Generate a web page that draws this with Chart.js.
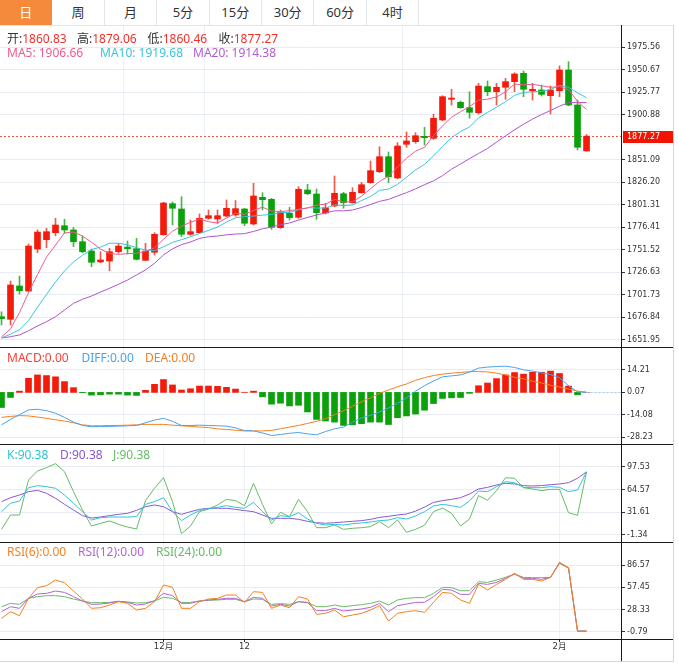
<!DOCTYPE html>
<html><head><meta charset="utf-8">
<script src="https://cdn.jsdelivr.net/npm/chart.js"></script>
<style>
html,body{margin:0;padding:0;background:#fff;}
body{width:678px;height:671px;position:relative;overflow:hidden;font-family:"Noto Sans","Noto Sans CJK SC",sans-serif;}
.tabs{position:absolute;left:0;top:0;width:674px;height:25px;border-bottom:1px solid #e1e5e9;}
.tab{position:absolute;top:0;width:52.4px;height:25px;line-height:25px;text-align:center;font-size:13px;color:#333;border-right:1px solid #e1e5e9;box-sizing:border-box;font-family:"Noto Sans","Noto Sans CJK SC",sans-serif;}
.tab.on{background:#f68a3c;color:#fff;border-right-color:#f68a3c;}
.hdr{position:absolute;font-size:12px;white-space:nowrap;line-height:14px;}
.k{color:#333;}
.r{color:#f2302a;}
canvas{position:absolute;left:0;}
.hl{position:absolute;height:1px;background:#1a1a1a;left:0;width:673px;}
</style></head>
<body>
<div class="tabs">
<div class="tab on" style="left:0px">日</div>
<div class="tab" style="left:52.4px">周</div>
<div class="tab" style="left:104.8px">月</div>
<div class="tab" style="left:157.2px">5分</div>
<div class="tab" style="left:209.6px">15分</div>
<div class="tab" style="left:262px">30分</div>
<div class="tab" style="left:314.4px">60分</div>
<div class="tab" style="left:366.8px">4时</div>
</div>

<canvas id="c1" width="678" height="321" style="top:26px;width:678px;height:321px"></canvas>
<canvas id="c2" width="678" height="97" style="top:347px;width:678px;height:97px"></canvas>
<canvas id="c3" width="678" height="98" style="top:444px;width:678px;height:98px"></canvas>
<canvas id="c4" width="678" height="119" style="top:542px;width:678px;height:119px"></canvas>

<div class="hdr" style="left:7px;top:32px"><span class="k">开:</span><span class="r">1860.83</span></div>
<div class="hdr" style="left:77px;top:32px"><span class="k">高:</span><span class="r">1879.06</span></div>
<div class="hdr" style="left:147.5px;top:32px"><span class="k">低:</span><span class="r">1860.46</span></div>
<div class="hdr" style="left:218.5px;top:32px"><span class="k">收:</span><span class="r">1877.27</span></div>
<div class="hdr" style="left:7px;top:46px;color:#ee5b8f">MA5: 1906.66</div>
<div class="hdr" style="left:100px;top:46px;color:#3cc4dc">MA10: 1919.68</div>
<div class="hdr" style="left:193px;top:46px;color:#b15ccf">MA20: 1914.38</div>

<div class="hdr" style="left:7px;top:351px;color:#f2453a">MACD:0.00</div>
<div class="hdr" style="left:81.5px;top:351px;color:#4aa2ef">DIFF:0.00</div>
<div class="hdr" style="left:145px;top:351px;color:#f5801f">DEA:0.00</div>

<div class="hdr" style="left:7px;top:448px;color:#2fc4d8">K:90.38</div>
<div class="hdr" style="left:60px;top:448px;color:#8a58d0">D:90.38</div>
<div class="hdr" style="left:113px;top:448px;color:#66bb66">J:90.38</div>

<div class="hdr" style="left:7px;top:545px;color:#f5801f">RSI(6):0.00</div>
<div class="hdr" style="left:78px;top:545px;color:#b463d2">RSI(12):0.00</div>
<div class="hdr" style="left:156px;top:545px;color:#66bb66">RSI(24):0.00</div>

<div class="hl" style="top:347px"></div>
<div class="hl" style="top:444px"></div>
<div class="hl" style="top:542px"></div>
<div class="hl" style="top:639px"></div>
<div style="position:absolute;left:621px;top:25px;width:1px;height:636px;background:#1a1a1a"></div>
<div style="position:absolute;left:673px;top:25px;width:1px;height:637px;background:#d3d7db"></div>
<div style="position:absolute;left:0;top:661px;width:674px;height:1px;background:#d3d7db"></div>

<script>
// ---- data ----
const opens  = [1677.4,1674.5,1711.4,1705.8,1752.3,1762.6,1770.4,1778.1,1773.4,1760.4,1750.1,1738.0,1739.0,1749.3,1754.5,1752.7,1739.8,1748.7,1768.2,1802.5,1796.6,1768.6,1770.4,1786.3,1785.5,1788.8,1790.0,1796.6,1780.0,1809.5,1807.3,1775.9,1791.8,1787.4,1817.6,1813.2,1792.2,1799.9,1813.5,1803.6,1814.6,1825.7,1837.9,1854.5,1830.9,1868.2,1871.1,1877.0,1874.8,1895.1,1918.0,1914.7,1908.7,1903.2,1932.0,1926.4,1931.3,1937.5,1946.8,1927.5,1928.3,1922.0,1927.5,1950.4,1911.7,1860.83];
const highs  = [1682.9,1716.9,1722.4,1757.9,1773.4,1775.2,1786.3,1785.2,1776.3,1766.7,1752.3,1749.3,1753.1,1758.6,1761.2,1764.2,1758.6,1770.4,1804.0,1804.3,1810.2,1784.4,1791.1,1795.5,1795.5,1806.6,1806.0,1797.4,1825.0,1814.6,1808.4,1795.5,1798.5,1821.3,1823.9,1818.7,1802.9,1833.1,1815.1,1820.2,1826.1,1849.7,1865.5,1859.7,1870.0,1881.8,1881.0,1887.0,1901.7,1922.0,1929.1,1916.1,1926.4,1935.7,1938.3,1935.7,1941.2,1947.4,1949.3,1935.7,1933.8,1932.7,1954.9,1959.6,1917.2,1879.06];
const lows   = [1668.2,1668.2,1702.5,1705.1,1748.2,1753.8,1767.0,1769.7,1754.9,1748.2,1732.7,1737.2,1728.3,1747.6,1746.8,1740.2,1739.4,1745.7,1767.5,1778.9,1765.9,1767.5,1769.7,1785.2,1780.8,1788.1,1788.5,1778.1,1778.9,1795.5,1774.1,1775.2,1784.4,1786.3,1812.4,1785.2,1791.1,1799.1,1797.4,1802.9,1814.0,1825.0,1836.8,1825.7,1830.1,1864.9,1869.3,1867.4,1873.7,1894.3,1911.7,1908.0,1897.0,1901.7,1922.0,1911.7,1918.0,1926.4,1920.9,1917.2,1921.6,1901.7,1920.9,1910.6,1861.9,1860.46];
const closes = [1675.2,1712.5,1706.2,1755.6,1771.1,1771.5,1778.9,1773.4,1760.4,1749.3,1737.6,1740.2,1749.3,1755.6,1752.7,1740.9,1750.1,1768.6,1803.2,1797.4,1768.6,1771.5,1786.3,1789.2,1789.2,1797.4,1797.0,1780.8,1811.0,1806.9,1776.3,1792.9,1787.0,1818.4,1813.5,1792.5,1798.0,1814.0,1803.6,1815.1,1823.5,1839.0,1854.5,1832.4,1866.3,1871.9,1877.7,1875.5,1897.0,1920.9,1919.4,1908.7,1903.6,1932.7,1926.4,1931.3,1937.5,1946.0,1929.1,1929.1,1923.5,1928.3,1950.4,1911.7,1864.9,1877.27];

const ma5  = [1655,1664,1682,1704,1724.1,1743.4,1756.7,1770.1,1771.1,1766.7,1759.9,1752.2,1747.4,1746.4,1747.1,1747.7,1749.7,1753.6,1763.1,1772.0,1777.6,1781.9,1785.4,1782.6,1781.0,1786.7,1791.8,1790.7,1795.1,1798.6,1794.4,1793.6,1794.8,1796.3,1797.6,1800.9,1801.9,1807.3,1804.3,1804.6,1810.8,1819.0,1827.1,1832.9,1843.1,1852.8,1860.6,1864.8,1877.7,1888.6,1898.1,1904.3,1909.9,1917.1,1918.2,1920.5,1926.3,1934.8,1934.1,1934.6,1933.0,1931.2,1932.1,1928.6,1915.8,1906.66];
const ma10 = [1654,1658,1663,1673,1688,1702,1716,1728,1738,1745.4,1751.7,1754.4,1758.7,1758.7,1756.9,1753.8,1751.0,1750.5,1754.8,1759.6,1762.7,1765.8,1769.5,1772.9,1776.5,1782.2,1786.8,1788.1,1788.8,1789.8,1790.6,1792.7,1792.8,1795.7,1798.1,1797.6,1797.7,1801.1,1800.3,1801.1,1805.9,1810.5,1817.2,1818.6,1823.9,1831.8,1839.8,1846.0,1855.3,1865.9,1875.5,1882.4,1887.3,1897.4,1903.4,1909.3,1915.3,1922.4,1925.6,1926.4,1926.8,1928.8,1933.4,1931.3,1925.2,1919.68];
const ma20 = [1653.8,1655.3,1657.2,1661.9,1667.1,1671.9,1677.4,1684.8,1692.2,1696.7,1700.3,1704.7,1708.8,1713.3,1718.0,1723.6,1729.1,1736.5,1745.7,1752.5,1757.2,1760.1,1764.1,1765.8,1766.7,1768.0,1768.9,1769.3,1771.8,1774.7,1776.6,1779.2,1781.1,1784.3,1787.3,1789.9,1792.3,1794.6,1794.6,1795.5,1798.2,1801.6,1805.0,1807.2,1811.0,1814.7,1818.8,1823.5,1827.8,1833.5,1840.7,1846.4,1852.3,1858.0,1863.6,1870.6,1877.6,1884.2,1890.4,1896.1,1901.1,1905.6,1910.4,1914.4,1914.3,1914.38];

const macdHist = [-9.5,-3.2,0.8,8.9,11.0,10.6,9.8,6.8,3.0,-0.2,-1.7,-1.5,-1.1,-1.1,-1.7,-1.9,1.3,5.1,8.1,4.7,1.5,2.3,4.0,4.0,3.8,3.2,2.1,0.1,0.8,-2.8,-7.4,-6.8,-8.5,-8.1,-12.3,-17.0,-18.0,-18.7,-20.8,-20.4,-19.7,-18.7,-18.7,-20.2,-15.9,-14.8,-13.6,-11.2,-7.0,-3.8,-3.4,-3.2,-0.6,4.2,5.9,8.7,11.0,12.5,11.5,12.7,12.7,13.4,11.9,4.0,-1.5,0];
const diffLine = [-20.4,-17.0,-14.0,-11.0,-10.6,-11.5,-13.1,-15.7,-18.7,-20.8,-21.6,-21.4,-21.4,-21.2,-21.0,-20.8,-19.1,-17.4,-16.3,-18.2,-20.8,-20.8,-20.6,-20.8,-21.0,-21.2,-22.3,-24.0,-24.2,-25.5,-27.1,-26.5,-25.7,-25.2,-26.1,-26.7,-24.6,-22.9,-21.8,-18.7,-16.1,-14.4,-12.3,-9.8,-6.8,-3.4,0.8,4.2,7.2,9.8,10.4,11.0,12.7,15.3,15.9,16.3,16.5,15.7,14.2,13.4,12.3,11.2,9.3,4.2,0.4,0];
const deaLine  = [-15.7,-15.1,-14.6,-14.8,-15.5,-16.3,-17.2,-18.0,-19.1,-20.4,-21.0,-21.0,-20.8,-20.8,-20.6,-20.4,-20.1,-20.1,-20.1,-20.6,-21.0,-21.4,-21.8,-22.1,-22.9,-23.3,-23.8,-24.2,-24.2,-24.2,-23.9,-22.9,-21.8,-20.8,-19.5,-18.2,-16.5,-14.0,-11.5,-8.7,-5.9,-3.4,-0.6,1.5,3.6,5.3,7.6,9.3,10.6,11.5,12.1,12.5,13.1,13.1,12.9,12.1,11.0,9.5,8.5,7.0,5.9,4.5,3.4,2.1,0.8,0.2];

const kLine = [32.3,44.5,47.9,67.3,70.3,68.8,66.4,56.6,44.5,32.3,20.1,23.5,24.5,24.5,24.5,25.0,43.0,46.9,52.7,32.3,19.2,27.4,33.8,36.7,38.6,41.1,38.6,37.2,45.9,32.3,20.1,26.5,25.0,30.8,21.6,15.3,12.8,13.8,12.8,14.8,15.7,17.2,19.2,20.1,23.5,21.6,26.0,32.3,40.6,43.0,41.1,38.6,47.9,62.5,61.5,68.8,76.1,74.6,67.8,67.3,67.3,68.8,67.8,61.5,63.9,90.38];
const dLine = [46.9,52.7,56.6,61.5,63.4,59.1,51.8,43.0,34.7,26.5,23.0,24.5,26.5,28.4,29.9,34.2,39.6,42.0,39.6,32.3,28.4,32.3,35.7,37.2,37.2,37.2,35.7,33.8,32.3,27.4,22.6,22.6,22.6,21.1,18.2,16.2,15.3,16.2,17.2,18.2,19.2,21.1,24.0,25.5,27.4,28.9,33.0,39.0,45.9,48.4,50.3,52.7,58.1,65.4,67.8,71.2,73.7,72.7,70.3,69.8,70.3,71.7,72.7,74.6,81.0,90.38];
const jLine = [6.5,27.4,27.4,78.5,91.7,96.5,102.4,90.7,61.5,34.7,11.4,15.3,18.7,13.8,9.9,7.0,48.4,66.4,81.9,46.9,0.2,11.4,32.3,36.2,42.0,50.3,48.4,41.1,73.7,43.0,14.3,31.3,25.0,50.3,32.3,8.9,8.9,12.8,6.5,8.0,8.9,10.4,17.7,8.9,20.1,2.1,6.5,12.5,32.3,37.6,29.9,11.4,21.6,55.7,48.8,63.0,81.9,81.0,67.3,65.4,63.0,64.9,64.9,30.8,26.9,90.38];

const rsi6  = [16.7,25.5,20.2,43.0,57.0,59.6,67.0,63.5,52.6,42.1,29.9,30.7,34.2,38.6,36.4,27.7,29.9,38.6,60.5,57.4,29.9,29.9,38.6,42.1,43.0,47.4,47.4,37.7,51.7,50.8,29.9,34.2,30.7,45.2,42.1,22.0,23.3,27.7,18.9,21.1,23.3,27.7,33.4,13.2,23.3,25.5,26.8,24.6,37.7,50.8,49.5,40.8,36.4,61.3,53.9,61.3,67.9,75.8,67.9,67.9,65.7,70.5,90.2,83.2,0,0];
const rsi12 = [25.5,32.0,29.9,43.0,48.7,49.5,52.6,50.8,45.2,39.5,35.1,35.5,36.9,39.1,37.7,34.2,35.5,39.9,49.5,46.5,36.4,36.4,39.5,40.8,41.7,43.0,43.0,38.6,44.3,43.0,32.9,35.1,32.9,38.6,37.3,26.8,26.8,29.9,26.4,27.7,29.0,31.2,36.4,25.5,33.4,35.5,37.7,37.7,45.2,54.8,53.9,48.2,48.2,62.6,61.3,63.9,69.2,74.9,69.2,69.2,67.9,70.5,89.8,83.2,0,0];
const rsi24 = [32.0,36.4,35.1,43.0,45.2,46.5,46.5,45.2,42.1,39.5,37.3,37.3,37.7,39.1,38.2,36.9,37.3,39.5,44.3,43.0,37.7,37.7,39.5,40.4,40.8,41.7,41.7,38.6,42.1,41.7,35.1,36.0,35.1,38.6,37.7,32.0,32.0,34.2,32.0,33.4,34.7,36.4,39.5,34.2,40.8,43.0,43.9,43.9,49.5,57.4,57.0,53.0,53.0,64.8,63.9,67.0,70.5,74.9,70.5,70.1,70.1,70.5,88.9,82.3,0,0];

const xTickIdx    = [18, 27, 62];
const xTickLabels = ['12月', '12', '2月'];
const mainTickLabels = ['1651.95','1676.84','1701.73','1726.63','1751.52','1776.41','1801.31','1826.20','1851.09','1900.88','1925.77','1950.67','1975.56'];
const macdTickLabels = ['-28.23','-14.08','0.07','14.21'];
const kdjTickLabels  = ['-1.34','31.61','64.57','97.53'];
const rsiTickLabels  = ['-0.79','28.33','57.45','86.57'];

// ---- styles ----
const RED = '#f31c0c', GREEN = '#0aa10a';
const RED_W = '#f2574c', GREEN_W = '#45b645';
const X_MIN = -1/6, X_MAX = 68.83;
const N = closes.length;
const TICK_FONT = {family:'"DejaVu Sans","Noto Sans CJK SC",sans-serif', size:8};

const pts = arr => arr.map((v, i) => ({x: i, y: v}));
const lineDs = (arr, color) => ({type:'line', data: pts(arr), borderColor: color, borderWidth: 1,
  pointRadius: 0, pointHoverRadius: 0, tension: 0, fill: false, order: 0});

function noPad(s) { s.paddingTop = 0; s.paddingBottom = 0; s.paddingLeft = 0; s.paddingRight = 0; }

function xAxis(bottom) {
  return {
    type: 'linear', min: X_MIN, max: X_MAX, offset: false,
    afterBuildTicks: s => { s.ticks = xTickIdx.map(v => ({value: v})); },
    afterFit: s => { s.height = bottom ? 22 : 0; noPad(s); },
    ticks: {display: bottom, autoSkip: false, maxRotation: 0, color: '#333', padding: 0,
      font: {family:'"DejaVu Sans","Noto Sans CJK SC",sans-serif', size: 8.5},
      callback: (v, i) => xTickLabels[i]},
    grid: {color: '#edf1f4', drawTicks: bottom, tickLength: 3, tickColor: '#333'},
    border: {display: false}
  };
}
function yAxis(min, max, labels) {
  const vals = labels.map(Number);
  return {
    position: 'right', min: min, max: max,
    afterBuildTicks: s => { s.ticks = vals.map(v => ({value: v})); },
    afterFit: s => { s.width = 52; noPad(s); },
    ticks: {autoSkip: false, color: '#333', padding: 2, font: TICK_FONT, callback: (v, i) => labels[i]},
    grid: {color: '#e6ecf1', tickLength: 4, tickColor: '#333'},
    border: {display: false}
  };
}
function baseOpts(yCfg, bottom) {
  return {
    responsive: false, animation: false, events: [],
    layout: {padding: {left: 0, right: 5, top: 0, bottom: 0}},
    plugins: {legend: {display: false}, tooltip: {enabled: false}},
    scales: {x: xAxis(bottom), y: yCfg}
  };
}

const up = closes.map((c, i) => c >= opens[i]);

const lastPricePlugin = {
  id: 'lastPrice',
  beforeDatasetsDraw(chart) {
    const {ctx, chartArea, scales: {y}} = chart;
    const py = Math.round(y.getPixelForValue(closes[N - 1])) + 0.5;
    ctx.save();
    ctx.strokeStyle = '#f0554a'; ctx.lineWidth = 1; ctx.setLineDash([2, 2]);
    ctx.beginPath(); ctx.moveTo(chartArea.left, py); ctx.lineTo(chartArea.right, py); ctx.stroke();
    ctx.restore();
  },
  afterDraw(chart) {
    const {ctx, chartArea, scales: {y}} = chart;
    const py = Math.round(y.getPixelForValue(closes[N - 1]));
    ctx.save();
    ctx.fillStyle = '#f21300';
    ctx.fillRect(chartArea.right + 2, py - 5, 50, 12);
    ctx.fillStyle = '#fff'; ctx.font = '8px "DejaVu Sans", sans-serif'; ctx.textBaseline = 'middle';
    ctx.fillText(closes[N - 1].toFixed(2), chartArea.right + 6, py + 1);
    ctx.restore();
  }
};

new Chart(document.getElementById('c1'), {
  type: 'bar',
  data: {datasets: [
    lineDs(ma5, '#ee5b8f'),
    lineDs(ma10, '#3cc4dc'),
    lineDs(ma20, '#b152cd'),
    {type: 'bar', data: opens.map((o, i) => ({x: i, y: [o, closes[i]]})),
     backgroundColor: up.map(u => u ? RED : GREEN), borderWidth: 0, barThickness: 6,
     grouped: false, minBarLength: 1, order: 1},
    {type: 'bar', data: lows.map((l, i) => ({x: i, y: [l, highs[i]]})),
     backgroundColor: up.map(u => u ? RED_W : GREEN_W), borderWidth: 0, barThickness: 1,
     grouped: false, order: 2}
  ]},
  options: baseOpts(yAxis(1643.87, 1999.12, mainTickLabels), false),
  plugins: [lastPricePlugin]
});

const zeroLinePlugin = {
  id: 'zeroLine',
  afterDatasetsDraw(chart) {
    const {ctx, chartArea, scales: {x, y}} = chart;
    const py = Math.round(y.getPixelForValue(0)) + 0.5;
    ctx.save();
    ctx.strokeStyle = '#a6d2f4'; ctx.lineWidth = 1; ctx.setLineDash([2, 2]);
    ctx.beginPath(); ctx.moveTo(x.getPixelForValue(N - 1), py); ctx.lineTo(chartArea.right, py); ctx.stroke();
    ctx.restore();
  }
};

new Chart(document.getElementById('c2'), {
  type: 'bar',
  data: {datasets: [
    lineDs(diffLine, '#4aa2ef'),
    lineDs(deaLine, '#f5801f'),
    {type: 'bar', data: pts(macdHist), backgroundColor: macdHist.map(v => v >= 0 ? RED : GREEN),
     borderWidth: 0, barThickness: 6, grouped: false, order: 1}
  ]},
  options: baseOpts(yAxis(-32.45, 28.56, macdTickLabels), false),
  plugins: [zeroLinePlugin]
});

new Chart(document.getElementById('c3'), {
  type: 'line',
  data: {datasets: [
    lineDs(kLine, '#2fc4d8'),
    lineDs(dLine, '#8a58d0'),
    lineDs(jLine, '#66bb66')
  ]},
  options: baseOpts(yAxis(-12.0, 131.1, kdjTickLabels), false)
});

new Chart(document.getElementById('c4'), {
  type: 'line',
  data: {datasets: [
    lineDs(rsi6, '#f5801f'),
    lineDs(rsi12, '#b463d2'),
    lineDs(rsi24, '#66bb66')
  ]},
  options: baseOpts(yAxis(-10.36, 116.9, rsiTickLabels), true)
});
</script>
</body></html>
